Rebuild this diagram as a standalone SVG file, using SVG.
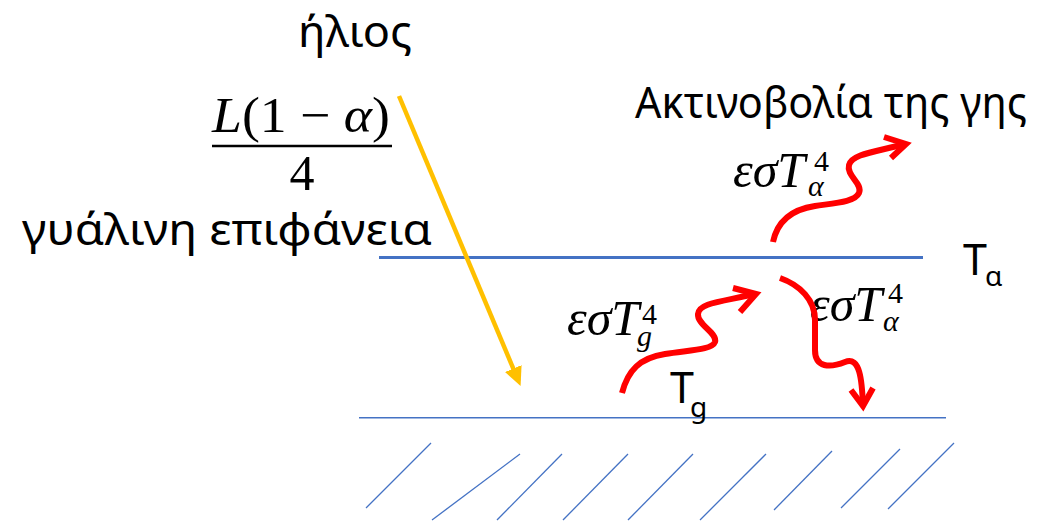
<svg xmlns="http://www.w3.org/2000/svg" width="1056" height="522" viewBox="0 0 1056 522">
  <defs>
    <style>
      .lbl { font-family: "Noto Sans", "Open Sans", sans-serif; font-size: 43px; fill: #000; }
      .sub { font-family: "Noto Sans", "Open Sans", sans-serif; font-size: 28px; }
      .math { font-family: "Liberation Serif", "DejaVu Serif", serif; font-size: 50px; fill: #000; }
      .mi { font-style: italic; }
      .msm { font-size: 30px; }
      .red { fill: none; stroke: #FF0000; stroke-width: 6; stroke-linecap: butt; stroke-linejoin: miter; }
      .hatch { stroke: #4472C4; stroke-width: 1.3; fill: none; }
    </style>
    <marker id="yhead" markerWidth="5" markerHeight="4" refX="3" refY="2" orient="auto" markerUnits="strokeWidth">
      <path d="M0,0 L4.2,2 L0,4 Z" fill="#FFC000"/>
    </marker>
  </defs>
  <rect width="1056" height="522" fill="#fff"/>

  <g id="sun-label">
    <text class="lbl" x="298" y="47" textLength="114" lengthAdjust="spacingAndGlyphs">ήλιος</text>
  </g>

  <g id="flux-fraction">
    <text class="math" x="212" y="132" textLength="178" lengthAdjust="spacingAndGlyphs"><tspan class="mi">L</tspan>(1 − <tspan class="mi">α</tspan>)</text>
    <line x1="212" y1="146" x2="392" y2="146" stroke="#000" stroke-width="2.5"/>
    <text class="math" x="302" y="190" text-anchor="middle">4</text>
  </g>

  <g id="glass-label">
    <text class="lbl" x="22" y="245" textLength="410" lengthAdjust="spacingAndGlyphs">γυάλινη επιφάνεια</text>
  </g>

  <g id="earth-radiation-label">
    <text class="lbl" x="635" y="118" textLength="392" lengthAdjust="spacingAndGlyphs">Ακτινοβολία της γης</text>
  </g>

  <g id="glass-surface">
    <line x1="379" y1="257.5" x2="923" y2="257.5" stroke="#4472C4" stroke-width="3"/>
    <text class="lbl" x="963" y="275">T<tspan class="sub" x="985" y="286">α</tspan></text>
  </g>

  <g id="ground">
    <line x1="359" y1="417.7" x2="946" y2="417.7" stroke="#4472C4" stroke-width="1.5"/>
    <line class="hatch" x1="366" y1="508" x2="431" y2="443"/>
    <line class="hatch" x1="432" y1="520" x2="520" y2="454"/>
    <line class="hatch" x1="497" y1="520" x2="562" y2="454"/>
    <line class="hatch" x1="563" y1="520" x2="628" y2="454"/>
    <line class="hatch" x1="628" y1="520" x2="693" y2="454"/>
    <line class="hatch" x1="700" y1="520" x2="766" y2="454"/>
    <line class="hatch" x1="774" y1="510" x2="832" y2="451"/>
    <line class="hatch" x1="841" y1="508" x2="900" y2="449"/>
    <line class="hatch" x1="888" y1="509" x2="954" y2="443"/>
    <text class="lbl" x="670" y="403">T<tspan class="sub" x="690" y="417">g</tspan></text>
  </g>

  <g id="label-ground-emission">
    <text class="math" x="567" y="335"><tspan class="mi">εσT</tspan><tspan class="msm" x="642" y="324">4</tspan><tspan class="msm mi" x="637" y="346">g</tspan></text>
  </g>

  <g id="label-glass-up">
    <text class="math" x="733" y="187"><tspan class="mi">εσT</tspan><tspan class="msm" x="814" y="171">4</tspan><tspan class="msm mi" x="808" y="196">α</tspan></text>
  </g>

  <g id="label-glass-down">
    <text class="math" x="810" y="321"><tspan class="mi">εσT</tspan><tspan class="msm" x="888" y="303">4</tspan><tspan class="msm mi" x="883" y="331">α</tspan></text>
  </g>

  <g id="connectors">
    <line x1="399" y1="96" x2="518.5" y2="381" stroke="#FFC000" stroke-width="4.5" marker-end="url(#yhead)"/>
    <path class="red" d="M622,393 C628,370 640,358 665,354 C690,350 712,350 715,342 C718,333 697,325 698,314 C699,303 720,302 755,294"/>
    <path class="red" d="M733,288 L756,294 L740,312"/>
    <path class="red" d="M773,242 C778,218 795,209 815,206 C835,203 855,202 859,193 C863,183 846,176 849,165 C852,154 875,152 905,144"/>
    <path class="red" d="M884,137 L906,144 L891,158"/>
    <path class="red" d="M780,278 C800,285 815,300 815,320 L815,350 C815,368 830,368 845,362 C860,356 862,380 863,406"/>
    <path class="red" d="M851,390 L863,406 L873,388"/>
  </g>
</svg>
